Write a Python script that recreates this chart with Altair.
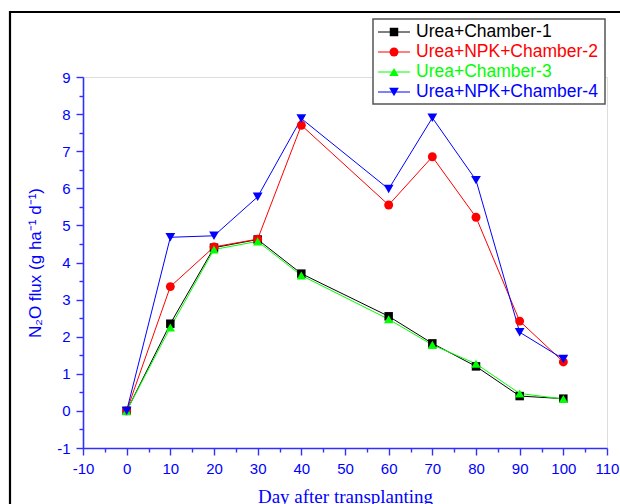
import altair as alt
import pandas as pd

days = [0, 10, 20, 30, 40, 60, 70, 80, 90, 100]
series_names = ["Urea+Chamber-1", "Urea+NPK+Chamber-2", "Urea+Chamber-3", "Urea+NPK+Chamber-4"]
chamber1 = [0.0, 2.35, 4.40, 4.62, 3.70, 2.55, 1.82, 1.20, 0.40, 0.33]
chamber2 = [0.0, 3.35, 4.42, 4.63, 7.70, 5.55, 6.85, 5.22, 2.42, 1.32]
chamber3 = [0.0, 2.25, 4.35, 4.57, 3.65, 2.47, 1.78, 1.27, 0.47, 0.32]
chamber4 = [0.0, 4.68, 4.72, 5.77, 7.88, 5.98, 7.90, 6.22, 2.12, 1.40]
colors = ["#000000", "#ff0000", "#00ff00", "#0000ff"]
shapes = ["square", "circle", "triangle-up", "triangle-down"]
marker_sizes = [72, 95, 160, 160]
x_ticks = [-10, -5, 0, 5, 10, 15, 20, 25, 30, 35, 40, 45, 50, 55, 60, 65, 70, 75, 80, 85, 90, 95, 100, 105, 110]
y_ticks = [-1, -0.5, 0, 0.5, 1, 1.5, 2, 2.5, 3, 3.5, 4, 4.5, 5, 5.5, 6, 6.5, 7, 7.5, 8, 8.5, 9]

rows = []
for name, vals in zip(series_names, [chamber1, chamber2, chamber3, chamber4]):
    for d, v in zip(days, vals):
        rows.append({"day": d, "flux": v, "series": name})
df = pd.DataFrame(rows)

legend_df = pd.DataFrame({"series": series_names, "row": [0, 1, 2, 3]})

AX = "#2f2fff"
TXT = "#0000ff"

color_scale = alt.Scale(domain=series_names, range=colors)
shape_scale = alt.Scale(domain=series_names, range=shapes)
size_scale = alt.Scale(domain=series_names, range=marker_sizes)

x_enc = alt.X(
    "day:Q",
    scale=alt.Scale(domain=[-10, 110], nice=False, zero=False),
    axis=alt.Axis(
        title="Day after transplanting",
        values=x_ticks,
        labelExpr="datum.value % 10 === 0 ? '' + datum.value : ''",
        tickSize={"condition": {"test": "datum.value % 10 !== 0", "value": 4}, "value": 7},
    ),
)
y_enc = alt.Y(
    "flux:Q",
    scale=alt.Scale(domain=[-1, 9], nice=False, zero=False),
    axis=alt.Axis(
        title="N\u2082O flux  (g ha\u207b\u00b9 d\u207b\u00b9)",
        values=y_ticks,
        labelExpr="datum.value % 1 === 0 ? '' + datum.value : ''",
        tickSize={"condition": {"test": "datum.value % 1 !== 0", "value": 4}, "value": 7},
    ),
)

lines = alt.Chart(df).mark_line(strokeWidth=1).encode(
    x=x_enc,
    y=y_enc,
    color=alt.Color("series:N", scale=color_scale, legend=None),
    detail="series:N",
    order=alt.Order("day:Q"),
)
points = alt.Chart(df).mark_point(filled=True, opacity=1).encode(
    x=x_enc,
    y=y_enc,
    color=alt.Color("series:N", scale=color_scale, legend=None),
    shape=alt.Shape("series:N", scale=shape_scale, legend=None),
    size=alt.Size("series:N", scale=size_scale, legend=None),
)

frame = alt.Chart(pd.DataFrame({"a": [0]})).mark_rect(
    fill=None, stroke="#000000", strokeWidth=2.2
).encode(
    x=alt.value(-73), x2=alt.value(560), y=alt.value(-65), y2=alt.value(450)
)

legend_box = alt.Chart(pd.DataFrame({"a": [0]})).mark_rect(
    fill="#ffffff", stroke="#555555", strokeWidth=1.5
).encode(
    x=alt.value(290), x2=alt.value(522), y=alt.value(-58), y2=alt.value(27)
)

leg_base = alt.Chart(legend_df).transform_calculate(ly="-45 + datum.row * 20")
leg_lines = leg_base.mark_rule(strokeWidth=1).encode(
    x=alt.value(295), x2=alt.value(327),
    y=alt.Y("ly:Q", scale=None),
    color=alt.Color("series:N", scale=color_scale, legend=None),
)
leg_points = leg_base.mark_point(filled=True, opacity=1).encode(
    x=alt.value(311),
    y=alt.Y("ly:Q", scale=None),
    color=alt.Color("series:N", scale=color_scale, legend=None),
    shape=alt.Shape("series:N", scale=shape_scale, legend=None),
    size=alt.Size("series:N", scale=size_scale, legend=None),
)
leg_text = leg_base.mark_text(
    align="left", baseline="middle", font="Liberation Sans", fontSize=17.5
).encode(
    x=alt.value(333),
    y=alt.Y("ly:Q", scale=None),
    text="series:N",
    color=alt.Color("series:N", scale=color_scale, legend=None),
)

chart = alt.layer(
    frame, lines, points, legend_box, leg_lines, leg_points, leg_text
).properties(
    width=524,
    height=371,
    autosize=alt.AutoSizeParams(type="none"),
    padding={"left": 83, "top": 77, "right": 13, "bottom": 56},
).configure_view(stroke=None).configure(background="#ffffff").configure_axis(
    grid=False,
    labelFlush=False,
    labelOverlap=False,
    labelPadding=6,
    labelFont="Liberation Sans",
    labelFontSize=15,
    labelColor=TXT,
    domainColor=AX,
    tickColor=AX,
    domainWidth=1.6,
    tickWidth=1.4,
    titleColor=TXT,
    titleFontWeight="normal",
).configure_axisX(
    titleFont="Liberation Serif",
    titleFontSize=19,
    titleX=262,
    titleY=54,
    titleBaseline="alphabetic",
    titleAlign="center",
).configure_axisY(
    titleFont="Liberation Sans",
    titleFontSize=17,
    titleAngle=-90,
    titleX=-43,
    titleY=185.5,
    titleBaseline="alphabetic",
    titleAlign="center",
)

chart.save("out.html", embed_options={"renderer": "svg", "actions": False})
